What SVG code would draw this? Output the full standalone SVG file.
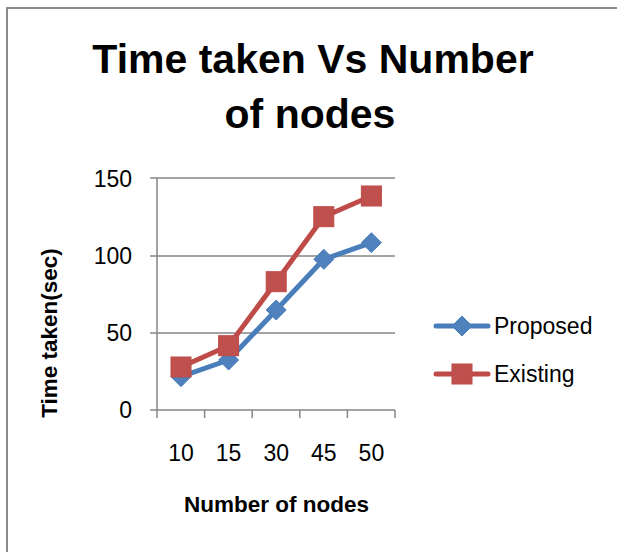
<svg xmlns="http://www.w3.org/2000/svg" width="617" height="552" viewBox="0 0 617 552">
  <style>
    .frame { fill: #ffffff; stroke: #8c8c8c; stroke-width: 2; }
    .grid { stroke: #868686; stroke-width: 1.5; fill: none; }
    .axis { stroke: #868686; stroke-width: 1.5; fill: none; }
    .lbl { font-family: "Liberation Sans", Arial, sans-serif; font-size: 23px; fill: #000000; }
    .title { font-family: "Liberation Sans", Arial, sans-serif; font-size: 41px; font-weight: bold; fill: #000000; text-anchor: middle; }
    .axtitle { font-family: "Liberation Sans", Arial, sans-serif; font-size: 22.5px; font-weight: bold; fill: #000000; text-anchor: middle; }
    .proposed { stroke: #4a7ebb; stroke-width: 5; fill: none; stroke-linejoin: round; stroke-linecap: round; }
    .existing { stroke: #be4b48; stroke-width: 5; fill: none; stroke-linejoin: round; stroke-linecap: round; }
    .dia { fill: #4f81bd; stroke: #4a7ebb; stroke-width: 1; }
    .sq { fill: #c0504d; stroke: #be4b48; stroke-width: 1; }
  </style>
  <defs>
    <path id="diamond" d="M0,-10 L10,0 L0,10 L-10,0 Z"/>
    <rect id="square" x="-10" y="-10" width="20" height="20"/>
  </defs>

  <!-- chart frame -->
  <rect class="frame" x="7" y="8" width="620" height="560"/>

  <!-- title -->
  <g id="title">
    <text class="title" x="313" y="73">Time taken Vs Number</text>
    <text class="title" x="310" y="128">of nodes</text>
  </g>

  <!-- gridlines and axes -->
  <g id="axes">
    <line class="grid" x1="157" y1="178" x2="395" y2="178"/>
    <line class="grid" x1="157" y1="256" x2="395" y2="256"/>
    <line class="grid" x1="157" y1="333" x2="395" y2="333"/>
    <line class="axis" x1="157" y1="178" x2="157" y2="418"/>
    <line class="axis" x1="150" y1="410" x2="395" y2="410"/>
    <!-- y ticks -->
    <line class="axis" x1="150" y1="178" x2="157" y2="178"/>
    <line class="axis" x1="150" y1="256" x2="157" y2="256"/>
    <line class="axis" x1="150" y1="333" x2="157" y2="333"/>
    <!-- x ticks -->
    <line class="axis" x1="204.6" y1="410" x2="204.6" y2="418"/>
    <line class="axis" x1="252.2" y1="410" x2="252.2" y2="418"/>
    <line class="axis" x1="299.8" y1="410" x2="299.8" y2="418"/>
    <line class="axis" x1="347.4" y1="410" x2="347.4" y2="418"/>
    <line class="axis" x1="395" y1="410" x2="395" y2="418"/>
  </g>

  <!-- y axis labels -->
  <g id="y-labels" text-anchor="end">
    <text class="lbl" x="132" y="187">150</text>
    <text class="lbl" x="132" y="264">100</text>
    <text class="lbl" x="132" y="341">50</text>
    <text class="lbl" x="132" y="418">0</text>
  </g>

  <!-- x axis labels -->
  <g id="x-labels" text-anchor="middle">
    <text class="lbl" x="181" y="461">10</text>
    <text class="lbl" x="228.6" y="461">15</text>
    <text class="lbl" x="276.2" y="461">30</text>
    <text class="lbl" x="323.8" y="461">45</text>
    <text class="lbl" x="371.4" y="461">50</text>
  </g>

  <!-- axis titles -->
  <g id="axis-titles">
    <text class="axtitle" x="276.5" y="512">Number of nodes</text>
    <text class="axtitle" transform="translate(57,333) rotate(-90)">Time taken(sec)</text>
  </g>

  <!-- data series -->
  <g id="connectors">
    <polyline class="proposed" points="181,376.7 228.6,360 276.2,310 323.8,259.3 371.4,242.7"/>
    <polyline class="existing" points="181,367 228.6,345.7 276.2,281.7 323.8,216.7 371.4,196"/>
  </g>
  <g id="series-proposed">
    <use href="#diamond" class="dia" x="181" y="376.7"/>
    <use href="#diamond" class="dia" x="228.6" y="360"/>
    <use href="#diamond" class="dia" x="276.2" y="310"/>
    <use href="#diamond" class="dia" x="323.8" y="259.3"/>
    <use href="#diamond" class="dia" x="371.4" y="242.7"/>
  </g>
  <g id="series-existing">
    <use href="#square" class="sq" x="181" y="367"/>
    <use href="#square" class="sq" x="228.6" y="345.7"/>
    <use href="#square" class="sq" x="276.2" y="281.7"/>
    <use href="#square" class="sq" x="323.8" y="216.7"/>
    <use href="#square" class="sq" x="371.4" y="196"/>
  </g>

  <!-- legend -->
  <g id="legend">
    <line class="proposed" x1="436" y1="326" x2="488" y2="326"/>
    <use href="#diamond" class="dia" x="462" y="326"/>
    <text class="lbl" x="494" y="334">Proposed</text>
    <line class="existing" x1="436" y1="374" x2="488" y2="374"/>
    <use href="#square" class="sq" x="462" y="374"/>
    <text class="lbl" x="494" y="382">Existing</text>
  </g>
</svg>
